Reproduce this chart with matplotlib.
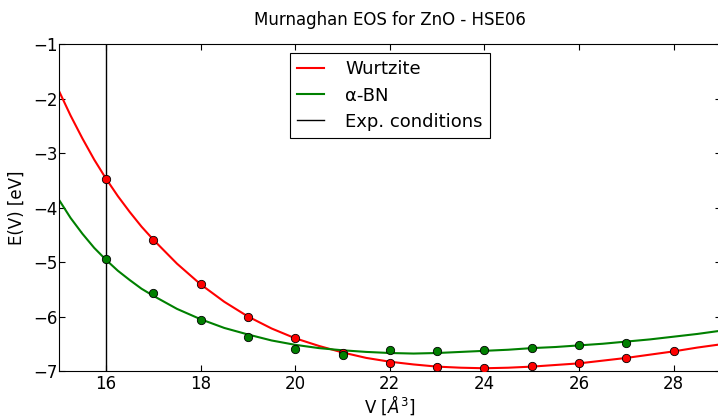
"""Murnaghan EOS curves for ZnO polymorphs (HSE06)."""

import matplotlib

matplotlib.use("Agg")

import matplotlib.pyplot as plt

# fitted curves (finer steps where the curves are steep)
curve_v = [15.0, 15.25, 15.5, 15.75, 16.0, 16.25, 16.5, 16.75, 17.0, 17.5,
           18.0, 18.5, 19.0, 19.5, 20.0, 20.5, 21.0, 21.5, 22.0, 22.5, 23.0,
           23.5, 24.0, 24.5, 25.0, 25.5, 26.0, 26.5, 27.0, 27.5, 28.0, 28.5,
           29.0]
wurtzite_curve = [-1.85, -2.31, -2.73, -3.12, -3.47, -3.79, -4.08, -4.35, -4.59,
                  -5.03, -5.41, -5.73, -6.00, -6.22, -6.40, -6.54, -6.66, -6.76,
                  -6.83, -6.88, -6.92, -6.94, -6.95, -6.94, -6.92, -6.89, -6.86,
                  -6.81, -6.76, -6.70, -6.64, -6.57, -6.51]
abn_curve = [-3.85, -4.19, -4.48, -4.74, -4.96, -5.16, -5.33, -5.49, -5.62,
             -5.86, -6.05, -6.21, -6.33, -6.44, -6.52, -6.58, -6.62, -6.65,
             -6.67, -6.68, -6.67, -6.65, -6.63, -6.61, -6.58, -6.56, -6.53,
             -6.50, -6.46, -6.42, -6.37, -6.32, -6.26]

# computed points
wurtzite_v = [16, 17, 18, 19, 20, 21, 22, 23, 24, 25, 26, 27, 28]
wurtzite_e = [-3.47, -4.59, -5.41, -6.00, -6.40, -6.67, -6.85, -6.93, -6.94,
              -6.91, -6.85, -6.76, -6.64]
abn_v = [16, 17, 18, 19, 20, 21, 22, 23, 24, 25, 26, 27]
abn_e = [-4.95, -5.56, -6.06, -6.37, -6.60, -6.71, -6.62, -6.64, -6.62, -6.58,
         -6.53, -6.48]

exp_volume = 16.0

plt.rcParams["font.family"] = "DejaVu Sans"
plt.rcParams["font.size"] = 12

fig = plt.figure(figsize=(7.18, 4.19), dpi=100)
ax = fig.add_axes([0.0818, 0.1146, 0.9224, 0.780])

ax.plot(curve_v, wurtzite_curve, color="red", linewidth=1.5, label="Wurtzite")
ax.plot(curve_v, abn_curve, color="green", linewidth=1.5, label="α-BN")
ax.axvline(exp_volume, color="black", linewidth=1.0, label="Exp. conditions")

ax.plot(wurtzite_v, wurtzite_e, "o", color="red", markeredgecolor="black",
        markeredgewidth=0.6, markersize=6, zorder=3)
ax.plot(abn_v, abn_e, "o", color="green", markeredgecolor="black",
        markeredgewidth=0.6, markersize=6, zorder=3)

ax.set_xlim(15, 29)
ax.set_ylim(-7, -1)
ax.set_xticks([16, 18, 20, 22, 24, 26, 28])
ax.set_yticks([-7, -6, -5, -4, -3, -2, -1])
ax.tick_params(direction="in", top=True, right=True, length=4, width=0.8,
               labelsize=12)
ax.tick_params(axis="x", pad=3)
ax.tick_params(axis="y", pad=1)

ax.set_xlabel(r"V [$\AA^3$]", fontsize=12, labelpad=0)
ax.set_ylabel("E(V) [eV]", fontsize=12, labelpad=5)
ax.set_title("Murnaghan EOS for ZnO - HSE06", fontsize=12, pad=14)

leg = ax.legend(loc="upper center", bbox_to_anchor=(0.5, 1.0), fancybox=False,
                framealpha=1.0, edgecolor="black", fontsize=13,
                handlelength=1.5, handletextpad=1.2, borderpad=0.4,
                labelspacing=0.45)
leg.get_frame().set_linewidth(0.8)

fig.savefig("out.png", dpi=100)
